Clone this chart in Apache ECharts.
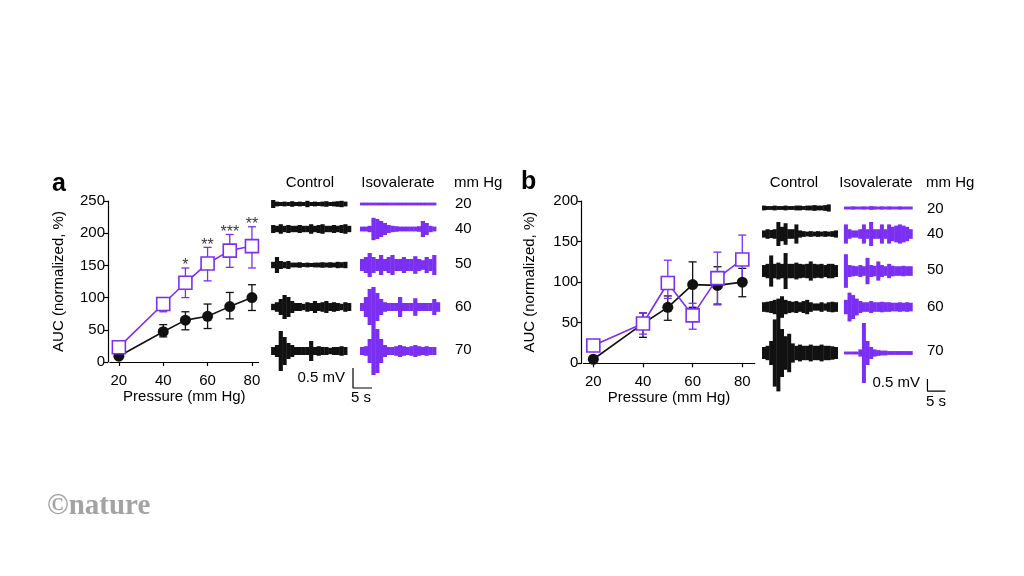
<!DOCTYPE html>
<html>
<head>
<meta charset="utf-8">
<script src="https://cdn.jsdelivr.net/npm/echarts@6/dist/echarts.min.js"></script>
<style>
  html, body { margin: 0; padding: 0; background: #fff; }
  #chart { width: 1024px; height: 576px; }
</style>
</head>
<body>
<div id="chart"></div>
<script>
// ---- summary data (AUC, normalized %) ----
const pressures = [20, 40, 50, 60, 70, 80];
const pressureTicks = [20, 40, 60, 80];

const aControlMean = [9, 47, 65, 71, 86, 100];
const aControlLow = [6, 39, 50, 52, 67, 80];
const aControlHigh = [12, 58, 78, 90, 108, 120];
const aIsoMean = [23, 90, 123, 153, 173, 180];
const aIsoLow = [19, 78, 100, 126, 147, 146];
const aIsoHigh = [27, 100, 146, 178, 198, 210];
const aStars = ["", "", "*", "**", "***", "**"];

const bControlMean = [5, 49, 69, 97, 96, 100];
const bControlLow = [3, 32, 53, 69, 73, 82];
const bControlHigh = [7, 62, 83, 125, 119, 117];
const bIsoMean = [22, 49, 99, 59, 105, 128];
const bIsoLow = [15, 36, 80, 42, 72, 97];
const bIsoHigh = [29, 62, 127, 74, 137, 158];

// ---- example recordings: envelope half-amplitude (mV) in 1 s bins ----
const tracePressures = [20, 40, 50, 60, 70];

const aControlTraces = [
  [0.1, 0.06, 0.05, 0.06, 0.05, 0.07, 0.05, 0.06, 0.05, 0.08, 0.05, 0.06, 0.05, 0.06, 0.07, 0.05, 0.06, 0.07, 0.08, 0.06],
  [0.1, 0.08, 0.12, 0.08, 0.1, 0.08, 0.08, 0.1, 0.08, 0.08, 0.12, 0.08, 0.1, 0.12, 0.08, 0.08, 0.1, 0.08, 0.1, 0.12, 0.08],
  [0.08, 0.2, 0.1, 0.08, 0.1, 0.06, 0.06, 0.07, 0.05, 0.06, 0.05, 0.06, 0.06, 0.07, 0.06, 0.07, 0.06, 0.08, 0.07, 0.08],
  [0.08, 0.12, 0.2, 0.3, 0.25, 0.15, 0.1, 0.1, 0.08, 0.12, 0.1, 0.15, 0.1, 0.12, 0.15, 0.1, 0.12, 0.1, 0.08, 0.12, 0.1],
  [0.1, 0.15, 0.5, 0.35, 0.2, 0.15, 0.1, 0.1, 0.1, 0.1, 0.25, 0.1, 0.12, 0.1, 0.1, 0.08, 0.1, 0.1, 0.12, 0.1],
];
const aIsoTraces = [
  [0.035, 0.035, 0.035, 0.035, 0.035, 0.035, 0.035, 0.035, 0.035, 0.035, 0.035, 0.035, 0.035, 0.035, 0.035, 0.035, 0.035, 0.035, 0.035, 0.035],
  [0.06, 0.06, 0.08, 0.28, 0.25, 0.2, 0.15, 0.1, 0.08, 0.07, 0.06, 0.06, 0.06, 0.06, 0.06, 0.07, 0.2, 0.15, 0.08, 0.06],
  [0.15, 0.2, 0.3, 0.2, 0.15, 0.25, 0.15, 0.2, 0.25, 0.15, 0.15, 0.2, 0.15, 0.15, 0.22, 0.15, 0.12, 0.2, 0.15, 0.25],
  [0.1, 0.25, 0.45, 0.5, 0.35, 0.2, 0.12, 0.1, 0.1, 0.1, 0.25, 0.1, 0.1, 0.1, 0.22, 0.1, 0.1, 0.1, 0.1, 0.2, 0.12],
  [0.1, 0.12, 0.3, 0.6, 0.55, 0.3, 0.15, 0.1, 0.1, 0.12, 0.15, 0.12, 0.1, 0.12, 0.15, 0.12, 0.1, 0.12, 0.1, 0.1],
];
const bControlTraces = [
  [0.1, 0.08, 0.08, 0.1, 0.08, 0.08, 0.1, 0.08, 0.08, 0.1, 0.1, 0.08, 0.1, 0.1, 0.12, 0.1, 0.1, 0.12, 0.15],
  [0.15, 0.2, 0.17, 0.2, 0.5, 0.3, 0.45, 0.2, 0.2, 0.4, 0.15, 0.12, 0.1, 0.12, 0.1, 0.12, 0.1, 0.12, 0.1, 0.12, 0.15],
  [0.25, 0.3, 0.65, 0.3, 0.35, 0.3, 0.75, 0.3, 0.3, 0.35, 0.3, 0.28, 0.3, 0.4, 0.3, 0.28, 0.3, 0.25, 0.3, 0.3, 0.25],
  [0.2, 0.22, 0.25, 0.3, 0.35, 0.45, 0.3, 0.25, 0.22, 0.25, 0.2, 0.25, 0.3, 0.2, 0.15, 0.15, 0.2, 0.15, 0.2, 0.22, 0.2],
  [0.25, 0.3, 0.5, 1.4, 1.6, 1.0, 0.7, 0.8, 0.4, 0.3, 0.35, 0.3, 0.3, 0.35, 0.3, 0.3, 0.35, 0.3, 0.3, 0.28, 0.25],
];
const bIsoTraces = [
  [0.06, 0.06, 0.07, 0.06, 0.06, 0.07, 0.06, 0.08, 0.07, 0.06, 0.07, 0.06, 0.07, 0.06, 0.06, 0.07, 0.06, 0.06, 0.06],
  [0.4, 0.2, 0.15, 0.15, 0.2, 0.4, 0.2, 0.5, 0.2, 0.2, 0.4, 0.2, 0.4, 0.3, 0.35, 0.4, 0.35, 0.3, 0.2],
  [0.7, 0.25, 0.22, 0.2, 0.25, 0.2, 0.55, 0.25, 0.22, 0.4, 0.25, 0.2, 0.3, 0.22, 0.2, 0.2, 0.22, 0.2, 0.2],
  [0.3, 0.6, 0.5, 0.35, 0.25, 0.2, 0.2, 0.25, 0.2, 0.2, 0.22, 0.2, 0.2, 0.18, 0.18, 0.2, 0.18, 0.2, 0.18],
  [0.06, 0.06, 0.06, 0.06, 0.15, 1.25, 0.5, 0.25, 0.15, 0.12, 0.1, 0.1, 0.08, 0.08, 0.08, 0.08, 0.08, 0.08, 0.08],
];
const scaleBarMv = 0.5;
const scaleBarSec = 5;

// ---- layout ----
const FONT = "Liberation Sans, Arial, Helvetica, sans-serif";
const PURPLE = "#7a2ff2";
const BLACK = "#111111";

// trace panel layout: baseline (mV) of each row, start time (s) of each column, scale bar anchor
const traceLayoutA = { rowBase: [5.15, 4.525, 3.625, 2.575, 1.475], colStart: [1.6, 25], bar: [23.16, 0.55] };
const traceLayoutB = { rowBase: [8.417, 7.333, 5.79, 4.29, 2.375], colStart: [1.94, 24.7], bar: [47.9, 0.79] };

const chart = echarts.init(document.getElementById("chart"));

function errorData(lo, hi) {
  return pressures.map((p, i) => [p, lo[i], hi[i]]);
}

function renderErrorBar(params, api) {
  const x = api.value(0);
  const top = api.coord([x, api.value(2)]);
  const bot = api.coord([x, api.value(1)]);
  const c = 4;
  const style = { stroke: api.visual("color"), lineWidth: 1.3 };
  return {
    type: "group",
    children: [
      { type: "line", shape: { x1: top[0], y1: top[1], x2: bot[0], y2: bot[1] }, style },
      { type: "line", shape: { x1: top[0] - c, y1: top[1], x2: top[0] + c, y2: top[1] }, style },
      { type: "line", shape: { x1: bot[0] - c, y1: bot[1], x2: bot[0] + c, y2: bot[1] }, style },
    ],
  };
}

function traceData(traces, layout, col) {
  const out = [];
  traces.forEach((amps, row) => {
    amps.forEach((a, k) => {
      out.push([layout.colStart[col] + k, layout.rowBase[row], a]);
    });
  });
  return out;
}

function renderTraceBin(params, api) {
  const t = api.value(0);
  const base = api.value(1);
  const amp = api.value(2);
  const p1 = api.coord([t, base + amp]);
  const p2 = api.coord([t + 1, base - amp]);
  const h = Math.max(p2[1] - p1[1], 1.6);
  const cy = (p1[1] + p2[1]) / 2;
  return {
    type: "rect",
    shape: { x: p1[0], y: cy - h / 2, width: p2[0] - p1[0] + 0.4, height: h },
    style: { fill: api.visual("color") },
  };
}

function scaleBar(layout) {
  const [t, v] = layout.bar;
  return [[t, v + scaleBarMv], [t, v], [t + scaleBarSec, v]];
}

const axisText = { color: "#000", fontSize: 15, fontFamily: FONT };

function plotXAxis(gridIndex, min, max) {
  return {
    type: "value",
    gridIndex,
    min,
    max,
    offset: 7,
    axisLine: { show: true, lineStyle: { color: "#000", width: 1.2 } },
    axisTick: { show: true, length: 4, customValues: pressureTicks, lineStyle: { color: "#000", width: 1.2 } },
    axisLabel: { ...axisText, margin: 4, customValues: pressureTicks },
    splitLine: { show: false },
    name: "Pressure (mm Hg)",
    nameLocation: "middle",
    nameGap: 17,
    nameTextStyle: { ...axisText },
  };
}

function plotYAxis(gridIndex, max, gap) {
  return {
    type: "value",
    gridIndex,
    min: 0,
    max,
    interval: 50,
    offset: 2,
    axisLine: { show: true, lineStyle: { color: "#000", width: 1.2 } },
    axisTick: { show: true, length: 4, lineStyle: { color: "#000", width: 1.2 } },
    axisLabel: { ...axisText, margin: 3 },
    splitLine: { show: false },
    name: "AUC (normalized, %)",
    nameLocation: "middle",
    nameRotate: 90,
    nameGap: gap,
    nameTextStyle: { ...axisText },
  };
}

function hiddenAxis(gridIndex, max) {
  return {
    type: "value", gridIndex, min: 0, max, show: false,
    splitLine: { show: false },
  };
}

function meanLine(name, means, xi, yi, color, isIso) {
  return {
    name,
    type: "line",
    xAxisIndex: xi,
    yAxisIndex: yi,
    data: pressures.map((p, i) => [p, means[i]]),
    symbol: isIso ? "rect" : "circle",
    symbolSize: isIso ? 13 : 11,
    showAllSymbol: true,
    lineStyle: { color, width: 1.6 },
    itemStyle: isIso
      ? { color: "#fff", borderColor: color, borderWidth: 1.6 }
      : { color, borderColor: color, borderWidth: 0 },
    z: isIso ? 4 : 3,
    animation: false,
  };
}

function errorSeries(lo, hi, xi, yi, color) {
  return {
    type: "custom",
    xAxisIndex: xi,
    yAxisIndex: yi,
    data: errorData(lo, hi),
    renderItem: renderErrorBar,
    itemStyle: { color },
    z: 2,
    animation: false,
  };
}

function traceSeries(traces, layout, col, xi, color) {
  return {
    type: "custom",
    xAxisIndex: xi,
    yAxisIndex: xi,
    data: traceData(traces, layout, col),
    renderItem: renderTraceBin,
    itemStyle: { color },
    animation: false,
  };
}

function barSeries(layout, xi) {
  return {
    type: "line",
    xAxisIndex: xi,
    yAxisIndex: xi,
    data: scaleBar(layout),
    symbol: "none",
    lineStyle: { color: "#000", width: 1.2 },
    animation: false,
  };
}

function txt(text, x, y, extra) {
  return {
    type: "text",
    x,
    y,
    style: { text, fill: "#000", fontSize: 15, fontFamily: FONT, align: "center", verticalAlign: "middle", ...extra },
  };
}

const graphics = [
  txt("a", 52, 184, { fontSize: 25, fontWeight: "bold", align: "left" }),
  txt("b", 521, 182, { fontSize: 25, fontWeight: "bold", align: "left" }),
  txt("Control", 310, 183),
  txt("Isovalerate", 398, 183),
  txt("mm Hg", 454, 183, { align: "left" }),
  txt("Control", 794, 183),
  txt("Isovalerate", 876, 183),
  txt("mm Hg", 926, 183, { align: "left" }),
  txt("0.5 mV", 345, 378, { align: "right" }),
  txt("5 s", 361, 398),
  txt("0.5 mV", 920, 383, { align: "right" }),
  txt("5 s", 936, 402),
  {
    type: "text",
    x: 47,
    y: 507,
    style: { text: "\u00a9nature", fill: "#a3a3a3", fontSize: 29, fontWeight: "bold", fontFamily: "Liberation Serif, DejaVu Serif, serif", verticalAlign: "middle" },
  },
];
const rowYA = [204, 229, 264, 307, 350];
const rowYB = [209, 234, 270, 307, 351];
tracePressures.forEach((p, i) => {
  graphics.push(txt(String(p), 455, rowYA[i], { align: "left" }));
  graphics.push(txt(String(p), 927, rowYB[i], { align: "left" }));
});

const option = {
  backgroundColor: "#fff",
  animation: false,
  grid: [
    { left: 110, top: 201, width: 148.6, height: 161 },
    { left: 583.4, top: 201, width: 171.3, height: 162.3 },
    { left: 265, top: 190, width: 200, height: 220 },
    { left: 755, top: 190, width: 200, height: 220 },
  ],
  xAxis: [
    plotXAxis(0, 16, 83),
    plotXAxis(1, 16, 85),
    hiddenAxis(2, 200 / 3.8),
    hiddenAxis(3, 200 / 3.6),
  ],
  yAxis: [
    plotYAxis(0, 250, 42),
    plotYAxis(1, 200, 44),
    hiddenAxis(2, 220 / 40),
    hiddenAxis(3, 220 / 24),
  ],
  series: [
    errorSeries(aControlLow, aControlHigh, 0, 0, BLACK),
    errorSeries(aIsoLow, aIsoHigh, 0, 0, PURPLE),
    meanLine("Control", aControlMean, 0, 0, BLACK, false),
    meanLine("Isovalerate", aIsoMean, 0, 0, PURPLE, true),
    {
      type: "scatter",
      xAxisIndex: 0,
      yAxisIndex: 0,
      data: pressures.map((p, i) => [p, aIsoHigh[i]]),
      symbolSize: 0,
      label: {
        show: true,
        position: "top",
        distance: -6,
        color: "#000",
        fontSize: 16,
        fontFamily: FONT,
        formatter: (params) => aStars[params.dataIndex],
      },
      z: 5,
      animation: false,
    },
    errorSeries(bControlLow, bControlHigh, 1, 1, BLACK),
    errorSeries(bIsoLow, bIsoHigh, 1, 1, PURPLE),
    meanLine("Control", bControlMean, 1, 1, BLACK, false),
    meanLine("Isovalerate", bIsoMean, 1, 1, PURPLE, true),
    traceSeries(aControlTraces, traceLayoutA, 0, 2, BLACK),
    traceSeries(aIsoTraces, traceLayoutA, 1, 2, PURPLE),
    traceSeries(bControlTraces, traceLayoutB, 0, 3, BLACK),
    traceSeries(bIsoTraces, traceLayoutB, 1, 3, PURPLE),
    barSeries(traceLayoutA, 2),
    barSeries(traceLayoutB, 3),
  ],
  graphic: graphics,
};

chart.setOption(option);
</script>
</body>
</html>
